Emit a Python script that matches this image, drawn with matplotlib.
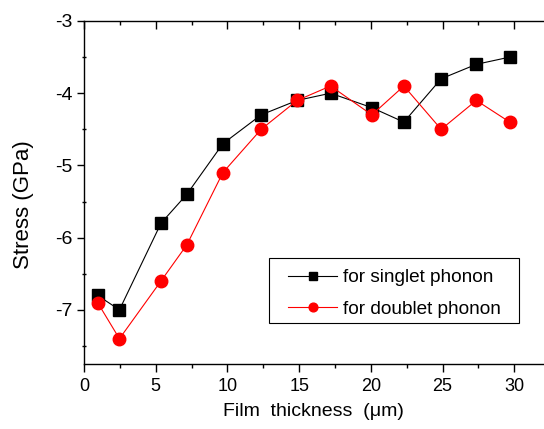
import matplotlib
matplotlib.use('Agg')
import matplotlib.pyplot as plt
from matplotlib.patches import Rectangle
from matplotlib.ticker import MultipleLocator

plt.rcParams['font.family'] = ['Liberation Sans', 'DejaVu Sans']
plt.rcParams['axes.unicode_minus'] = False

# data
thickness = [0.95, 2.47, 5.37, 7.17, 9.68, 12.35, 14.86, 17.19, 20.07, 22.3, 24.9, 27.35, 29.68]
stress_singlet = [-6.8, -7.0, -5.8, -5.4, -4.7, -4.3, -4.1, -4.0, -4.2, -4.4, -3.8, -3.6, -3.5]
stress_doublet = [-6.9, -7.4, -6.6, -6.1, -5.1, -4.5, -4.1, -3.9, -4.3, -3.9, -4.5, -4.1, -4.4]

W, H = 544, 429
fig = plt.figure(figsize=(W / 100, H / 100), dpi=100)
ax = fig.add_axes([84 / W, 1 - 364 / H, 459 / W, (364 - 21) / H])

ax.plot(thickness, stress_singlet, color='black', lw=0.8, marker='s', ms=9,
        label='for singlet phonon')
ax.plot(thickness, stress_doublet, color='red', lw=0.8, marker='o', ms=9,
        label='for doublet phonon')

ax.set_xlim(0, 32)
ax.set_ylim(-7.75, -3)
ax.xaxis.set_major_locator(MultipleLocator(5))
ax.xaxis.set_minor_locator(MultipleLocator(2.5))
ax.yaxis.set_major_locator(MultipleLocator(1))
ax.yaxis.set_minor_locator(MultipleLocator(0.5))

ax.spines['right'].set_visible(False)
for s in ['left', 'bottom', 'top']:
    ax.spines[s].set_linewidth(1.0)

ax.tick_params(axis='x', which='major', direction='out', length=6, width=1,
               labelsize=13, pad=4)
ax.tick_params(axis='x', which='minor', direction='out', length=3, width=1)
ax.tick_params(axis='x', which='both', top=True)
ax.tick_params(axis='y', which='major', direction='out', length=5, width=1, labelsize=14)
ax.tick_params(axis='y', which='minor', direction='inout', length=3, width=1)
# top ticks point inward
for t in ax.xaxis.get_major_ticks() + ax.xaxis.get_minor_ticks():
    t.tick2line.set_marker(3)

ax.set_xlabel('Film  thickness  (\u03bcm)', fontsize=14, labelpad=6)
ax.set_ylabel('Stress (GPa)', fontsize=16)
ax.yaxis.set_label_coords(-0.11, 0.465)

# legend box drawn separately so the side padding can be wider than the top one
ax.add_patch(Rectangle((269 / W, 1 - 323 / H), 250 / W, 65 / H,
                       transform=fig.transFigure, facecolor='white',
                       edgecolor='black', lw=0.8, zorder=4, clip_on=False))
leg = ax.legend(loc='upper left', bbox_to_anchor=(288 / W, 1 - 269 / H),
                bbox_transform=fig.transFigure, fontsize=13.7, frameon=False,
                handlelength=2.6, handletextpad=0.3, borderpad=0,
                labelspacing=0.75, borderaxespad=0, markerscale=0.7)
leg.set_zorder(5)

fig.savefig('out.png', dpi=100)
